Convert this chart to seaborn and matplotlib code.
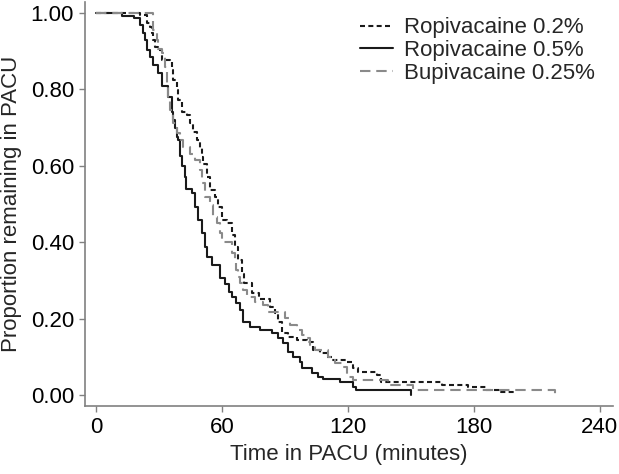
import matplotlib
matplotlib.use('Agg')
import matplotlib.pyplot as plt
import seaborn as sns
import pandas as pd

# Kaplan-Meier style step estimates (minutes, proportion)
rop02_time = [0, 21, 24.1, 25.7, 26.5, 27.3, 28.1, 29.7, 31.3, 35.2, 36, 36.8, 38.4, 39.2,
              40.8, 43.2, 44.8, 46.3, 48, 49.5, 50.3, 51.1, 52.7, 54.3, 56.7, 58.2, 59.8,
              62.2, 64.6, 66.2, 67.8, 69.4, 70.5, 74.1, 77.5, 82.9, 85.2, 86.8, 88.4, 91.6,
              95.6, 100.3, 103.5, 106.7, 109.9, 112.2, 119.4, 122.5, 124.9, 133.7, 136,
              165, 177, 186, 193, 199]
rop02_surv = [1.0, 0.995, 0.973, 0.964, 0.947, 0.93, 0.912, 0.903, 0.877, 0.873, 0.851,
              0.825, 0.798, 0.772, 0.742, 0.733, 0.711, 0.689, 0.667, 0.646, 0.624, 0.605,
              0.571, 0.537, 0.519, 0.493, 0.458, 0.449, 0.419, 0.388, 0.353, 0.318, 0.292,
              0.266, 0.25, 0.231, 0.214, 0.192, 0.161, 0.153, 0.144, 0.14, 0.118, 0.109,
              0.1, 0.092, 0.087, 0.07, 0.061, 0.052, 0.035, 0.026, 0.02, 0.013, 0.009, 0.0]

rop05_time = [0, 12.5, 18, 21, 22.5, 23.3, 24.1, 25.7, 27.3, 29.7, 31.3, 34.4, 36, 36.8,
              37.6, 38.4, 39.2, 40, 41.2, 42.4, 43, 45.6, 47.1, 48.7, 50.3, 51.9, 53, 55.1,
              59, 61.5, 63.5, 65, 66.5, 68.6, 70.1, 73.3, 78.1, 83.7, 86.8, 89.2, 91.6, 94,
              97.1, 98, 102.7, 105.9, 108.3, 116.2, 122.5, 124.1, 150.3]
rop05_surv = [1.0, 0.992, 0.986, 0.969, 0.947, 0.929, 0.903, 0.886, 0.864, 0.842, 0.81,
              0.78, 0.74, 0.72, 0.70, 0.676, 0.667, 0.625, 0.60, 0.571, 0.54, 0.528, 0.493,
              0.458, 0.424, 0.388, 0.362, 0.34, 0.305, 0.29, 0.27, 0.257, 0.24, 0.223,
              0.192, 0.179, 0.17, 0.161, 0.148, 0.135, 0.113, 0.1, 0.087, 0.07, 0.057,
              0.048, 0.043, 0.035, 0.022, 0.013, 0.0]

bup025_time = [0, 27.3, 28.9, 29.7, 31.3, 32.9, 33.7, 34.4, 35.2, 36.8, 38.4, 40, 41.6,
               44.8, 47.1, 49.5, 50.3, 51.9, 54.3, 55.9, 57.5, 59, 59.8, 64.6, 66.2, 66.8,
               67.5, 68.6, 70.1, 71.8, 75.7, 79.7, 82, 90, 92.4, 95.6, 98, 100.3, 102,
               104.3, 110.6, 113.8, 117.8, 119.4, 122.5, 139.2, 151, 218.5]
bup025_surv = [1.0, 0.955, 0.929, 0.907, 0.894, 0.859, 0.812, 0.781, 0.746, 0.711, 0.685,
               0.667, 0.65, 0.632, 0.615, 0.589, 0.554, 0.519, 0.497, 0.467, 0.449, 0.423,
               0.40, 0.371, 0.353, 0.327, 0.31, 0.292, 0.275, 0.257, 0.244, 0.236, 0.218,
               0.201, 0.183, 0.17, 0.157, 0.148, 0.13, 0.118, 0.1, 0.083, 0.074, 0.048,
               0.039, 0.026, 0.013, 0.0]

groups = ["Ropivacaine 0.2%", "Ropivacaine 0.5%", "Bupivacaine 0.25%"]
x_ticks = [0, 60, 120, 180, 240]
y_ticks = [0.0, 0.2, 0.4, 0.6, 0.8, 1.0]

frames = []
for name, t, s in zip(groups, [rop02_time, rop05_time, bup025_time],
                      [rop02_surv, rop05_surv, bup025_surv]):
    frames.append(pd.DataFrame({"time": t, "surv": s, "group": name}))
df = pd.concat(frames, ignore_index=True)

sns.set_theme(style="ticks")
plt.rcParams['font.family'] = ['Liberation Sans', 'DejaVu Sans']

fig = plt.figure(figsize=(6.19, 4.74), dpi=100)
ax = fig.add_axes([0.1373, 0.1435, 0.8527, 0.8523])

palette = {"Ropivacaine 0.2%": "#1a1a1a", "Ropivacaine 0.5%": "#1a1a1a",
           "Bupivacaine 0.25%": "#8a8a8a"}
dashes = {"Ropivacaine 0.2%": (2.4, 1.6), "Ropivacaine 0.5%": "",
          "Bupivacaine 0.25%": (5.0, 2.8)}

sns.lineplot(data=df, x="time", y="surv", hue="group", style="group",
             hue_order=groups, style_order=groups, palette=palette, dashes=dashes,
             estimator=None, sort=False, drawstyle="steps-post", linewidth=1.5, ax=ax)

ax.set_xlim(-5.24, 246.2)
ax.set_ylim(-0.0288, 1.0288)
ax.set_xticks(x_ticks)
ax.set_yticks(y_ticks)
ax.set_yticklabels([f"{v:.2f}" for v in y_ticks])
ax.set_xlabel("Time in PACU (minutes)", fontsize=16, labelpad=4)
ax.set_ylabel("Proportion remaining in PACU", fontsize=16, labelpad=6)

for side in ["top", "right"]:
    ax.spines[side].set_visible(False)
for side in ["left", "bottom"]:
    ax.spines[side].set_color("#808080")
    ax.spines[side].set_linewidth(1.2)
ax.tick_params(axis="both", direction="out", length=4.5, width=1.0, color="#808080",
               labelsize=16, labelcolor="black", pad=3.5)

sns.move_legend(ax, loc="upper left", bbox_to_anchor=(0.521, 0.962), frameon=False,
                title=None, fontsize=16, borderaxespad=0, borderpad=0,
                handlelength=1.5, handletextpad=0.5, labelspacing=0.08)

fig.savefig("out.png", dpi=100)
plt.close(fig)
